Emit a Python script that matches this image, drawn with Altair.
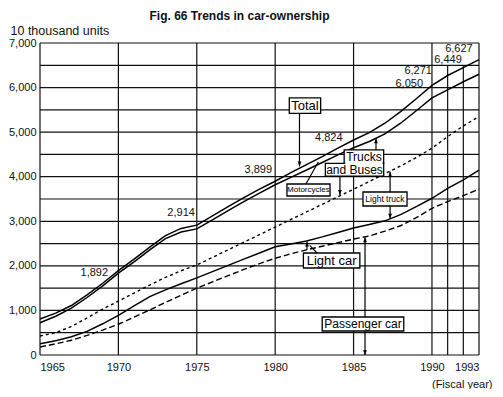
import altair as alt
import pandas as pd

# ---------------- data (10 thousand units, cumulative bands) ----------------
years = list(range(1965, 1994))
total = [807, 940, 1110, 1350, 1610, 1892, 2150, 2420, 2680, 2840, 2914, 3120, 3330, 3530,
         3720, 3899, 4090, 4270, 4450, 4640, 4824, 4990, 5200, 5460, 5750, 6050, 6271, 6449, 6627]
excl_motorcycles = [724, 870, 1050, 1290, 1550, 1835, 2090, 2360, 2610, 2760, 2830, 3030, 3240,
                    3440, 3630, 3820, 3985, 4150, 4320, 4490, 4650, 4790, 4960, 5200, 5480, 5770,
                    5950, 6130, 6300]
upto_light_truck = [426, 500, 640, 830, 1030, 1210, 1390, 1570, 1740, 1890, 2020, 2190, 2360, 2530,
                    2700, 2870, 3040, 3210, 3380, 3550, 3720, 3890, 4070, 4240, 4430, 4640, 4900,
                    5140, 5350]
upto_light_car = [250, 320, 410, 530, 700, 890, 1100, 1310, 1460, 1600, 1730, 1870, 2010, 2150,
                  2290, 2430, 2490, 2560, 2650, 2750, 2850, 2930, 3010, 3150, 3330, 3516, 3740,
                  3930, 4150]
passenger_car = [180, 250, 330, 440, 560, 690, 850, 1010, 1180, 1340, 1500, 1640, 1780, 1920,
                 2050, 2170, 2270, 2360, 2440, 2520, 2600, 2670, 2780, 2900, 3080, 3290, 3440,
                 3575, 3720]

x_label_years = [1965, 1970, 1975, 1980, 1985, 1990, 1993]
full_grid_years = [1965, 1970, 1975, 1980, 1985, 1990, 1993]
short_grid_years = [1991, 1992]
y_ticks = list(range(0, 7001, 500))

# value labels on the total line
val_text = ["1,892", "2,914", "3,899", "4,824", "6,050", "6,271", "6,449", "6,627"]
val_x = [1969.34, 1974.88, 1979.8, 1984.3, 1989.43, 1990.0, 1991.9, 1992.6]
val_y = [1840, 3193, 4151, 4862, 6080, 6372, 6619, 6866]

# annotation boxes
box_x1 = [1980.9, 1980.75, 1984.4, 1983.2, 1985.6, 1981.8, 1983.0]
box_x2 = [1982.9, 1983.5, 1986.92, 1986.92, 1988.41, 1985.4, 1988.2]
box_y1 = [5420, 3567, 4300, 4010, 3343, 1952, 538]
box_y2 = [5770, 3837, 4600, 4300, 3657, 2289, 853]

ann_text = ["Total", "Motorcycles", "Trucks", "and Buses", "Light truck", "Light car", "Passenger car"]
ann_x = [1981.9, 1982.12, 1985.66, 1985.06, 1987.0, 1983.6, 1985.6]
ann_y = [5595, 3702, 4450, 4155, 3500, 2120, 695]
ann_size = [13, 8, 12, 12, 8.5, 13, 12]

# pointer segments
seg_x1 = [1981.55, 1981.96, 1986.43, 1984.13, 1987.33, 1987.33, 1982.03, 1982.67, 1985.73, 1985.73]
seg_y1 = [5420, 3837, 4600, 4010, 3657, 3343, 2360, 2289, 853, 538]
seg_x2 = [1981.55, 1982.75, 1986.43, 1984.13, 1987.33, 1987.33, 1982.03, 1982.2, 1985.73, 1985.73]
seg_y2 = [4230, 4330, 4860, 3590, 4110, 3060, 2545, 2460, 2640, 0]
head_up_x = [1986.43, 1987.33, 1982.03, 1985.73]
head_up_y = [4860, 4110, 2545, 2640]
head_down_x = [1981.55, 1984.13, 1987.33, 1985.73]
head_down_y = [4230, 3590, 3060, 0]

# ---------------- frames ----------------
def series_df(name, vals):
    return pd.DataFrame({"year": years, "value": vals, "series": name})

solid_df = pd.concat([series_df("Total", total),
                      series_df("Excluding motorcycles", excl_motorcycles),
                      series_df("Up to light car", upto_light_car)])
dotted_df = series_df("Up to light truck", upto_light_truck)
dashed_df = series_df("Passenger car", passenger_car)

FONT = "Liberation Sans"
GRID = "#111"
xs = alt.Scale(domain=[1965, 1993], nice=False, zero=False)
ys = alt.Scale(domain=[0, 7000], nice=False)

X = alt.X("year:Q", scale=xs,
          axis=alt.Axis(values=x_label_years, format="d", grid=False, ticks=False, domain=False,
                        labelFont=FONT, labelFontSize=11, labelPadding=6, labelColor="#111",
                        title="(Fiscal year)", titleFont=FONT, titleFontSize=11,
                        titleFontWeight="normal", titleAlign="right", titleX=452, titleY=32,
                        titleColor="#111", titleBaseline="alphabetic"))
Y = alt.Y("value:Q", scale=ys,
          axis=alt.Axis(values=y_ticks, format=",.0f", grid=False, ticks=False, domain=False,
                        labelFont=FONT, labelFontSize=11, labelPadding=4, labelColor="#111",
                        title="10 thousand units", titleAngle=0, titleAlign="left",
                        titleBaseline="alphabetic", titleX=-30, titleY=-9,
                        titleFont=FONT, titleFontSize=12.5, titleFontWeight="normal",
                        titleColor="#111"))

hgrid = alt.Chart(pd.DataFrame({"v": y_ticks, "x0": 1965, "x1": 1993})).mark_rule(
    color=GRID, strokeWidth=1.2).encode(x=alt.X("x0:Q", scale=xs), x2="x1:Q",
                                        y=alt.Y("v:Q", scale=ys))
vgrid = alt.Chart(pd.DataFrame({"yr": full_grid_years, "y0": 0, "y1": 7000})).mark_rule(
    color=GRID, strokeWidth=1.2).encode(x="yr:Q", y="y0:Q", y2="y1:Q")
vgrid_short = alt.Chart(pd.DataFrame({"yr": short_grid_years, "y0": 0, "y1": 6500})).mark_rule(
    color=GRID, strokeWidth=1.2).encode(x="yr:Q", y="y0:Q", y2="y1:Q")

base_lines = alt.Chart(solid_df).mark_line(color="black", strokeWidth=1.5).encode(
    x=X, y=Y, detail="series:N")
dotted = alt.Chart(dotted_df).mark_line(color="black", strokeWidth=1.4, strokeDash=[3, 3]).encode(
    x="year:Q", y="value:Q")
dashed = alt.Chart(dashed_df).mark_line(color="black", strokeWidth=1.4, strokeDash=[6, 3]).encode(
    x="year:Q", y="value:Q")

val_labels = alt.Chart(pd.DataFrame({"t": val_text, "x": val_x, "y": val_y})).mark_text(
    font=FONT, fontSize=11, align="right", baseline="middle", color="#111").encode(
    x="x:Q", y="y:Q", text="t:N")

segs = alt.Chart(pd.DataFrame({"x1": seg_x1, "y1": seg_y1, "x2": seg_x2, "y2": seg_y2})).mark_rule(
    color="black", strokeWidth=1.2).encode(x="x1:Q", y="y1:Q", x2="x2:Q", y2="y2:Q")

up_path = "M0,0L-1,2.6L1,2.6Z"
down_path = "M0,0L-1,-2.6L1,-2.6Z"
heads_up = alt.Chart(pd.DataFrame({"x": head_up_x, "y": head_up_y})).mark_point(
    shape=up_path, filled=True, color="black", size=14, opacity=1).encode(x="x:Q", y="y:Q")
heads_down = alt.Chart(pd.DataFrame({"x": head_down_x, "y": head_down_y})).mark_point(
    shape=down_path, filled=True, color="black", size=14, opacity=1).encode(x="x:Q", y="y:Q")

boxes = alt.Chart(pd.DataFrame({"x1": box_x1, "x2": box_x2, "y1": box_y1, "y2": box_y2})).mark_rect(
    fill="white", stroke="black", strokeWidth=1.3).encode(x="x1:Q", x2="x2:Q", y="y1:Q", y2="y2:Q")
# hide the seam between the two parts of the "Trucks and Buses" box
seam = alt.Chart(pd.DataFrame({"x1": [box_x1[2] + 0.07], "x2": [box_x2[2] - 0.07],
                               "y1": [box_y1[2] - 45], "y2": [box_y1[2] + 45]})).mark_rect(
    fill="white").encode(x="x1:Q", x2="x2:Q", y="y1:Q", y2="y2:Q")

ann = alt.Chart(pd.DataFrame({"t": ann_text, "x": ann_x, "y": ann_y, "s": ann_size})).mark_text(
    font=FONT, baseline="middle", align="center", color="black").encode(
    x="x:Q", y="y:Q", text="t:N", size=alt.Size("s:Q", scale=None, legend=None))

chart = alt.layer(hgrid, vgrid, vgrid_short, base_lines, dotted, dashed, val_labels, segs,
                  heads_up, heads_down, boxes, seam, ann).properties(
    width=439, height=312,
    padding={"left": 32, "top": 35, "right": 16, "bottom": 34},
    autosize=alt.AutoSizeParams(type="none"),
    title=alt.TitleParams("Fig. 66 Trends in car-ownership", font=FONT, fontSize=12,
                          fontWeight="bold", anchor="middle", dx=-20, offset=1, color="#111"),
).configure_view(stroke=None)

chart.save("out.html", embed_options={"renderer": "svg", "actions": False})
